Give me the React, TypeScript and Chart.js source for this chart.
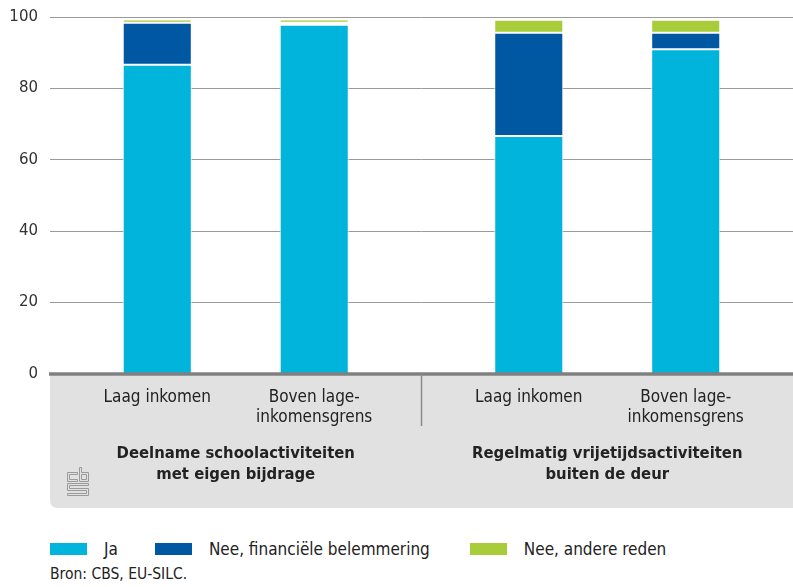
import React, { useEffect, useRef } from "react";
import { Chart, registerables } from "chart.js";

Chart.register(...registerables);

// ---- data ----
const groupTitles: string[][] = [
  ["Deelname schoolactiviteiten", "met eigen bijdrage"],
  ["Regelmatig vrijetijdsactiviteiten", "buiten de deur"],
];
const incomeGroups = ["Laag inkomen", "Boven lage-inkomensgrens"];
const incomeLabelLines: string[][] = [["Laag inkomen"], ["Boven lage-", "inkomensgrens"]];
const seriesNames = ["Ja", "Nee, financiële belemmering", "Nee, andere reden"];
const seriesColors = ["#00b4dc", "#0058a3", "#a9cd3a"];

// values per income group, per activity [school, vrije tijd]
const jaLaag = [86.6, 66.7];
const jaBoven = [97.8, 91.0];
const finLaag = [11.8, 28.9];
const finBoven = [0.6, 4.6];
const andereLaag = [0.9, 3.6];
const andereBoven = [0.9, 3.6];

const yTicks = [0, 20, 40, 60, 80, 100];
const source = "Bron: CBS, EU-SILC.";

const seriesValues = [
  [jaLaag, jaBoven],
  [finLaag, finBoven],
  [andereLaag, andereBoven],
];

const FONT = "'DejaVu Sans Condensed', 'Liberation Sans Narrow', 'DejaVu Sans', sans-serif";

export default function App() {
  const ref = useRef<HTMLCanvasElement | null>(null);

  useEffect(() => {
    document.body.style.margin = "0";
    const canvas = ref.current;
    if (!canvas) return;

    const datasets: any[] = [];
    seriesValues.forEach((perGroup, s) => {
      perGroup.forEach((vals, g) => {
        datasets.push({
          label: seriesNames[s],
          stack: incomeGroups[g],
          data: vals,
          backgroundColor: seriesColors[s],
          borderColor: "#ffffff",
          borderWidth: 1,
          borderSkipped: false,
          categoryPercentage: 0.845,
          barPercentage: 0.44,
        });
      });
    });

    const decor = {
      id: "decor",
      beforeDraw(chart: any) {
        const { ctx, chartArea } = chart;
        const left = chartArea.left;
        const right = chartArea.right;
        const top = chartArea.bottom + 1;
        const bottom = 508;
        const r = 8;
        ctx.save();
        ctx.fillStyle = "#e1e1e1";
        ctx.beginPath();
        ctx.moveTo(left, top);
        ctx.lineTo(right, top);
        ctx.lineTo(right, bottom);
        ctx.lineTo(left + r, bottom);
        ctx.quadraticCurveTo(left, bottom, left, bottom - r);
        ctx.closePath();
        ctx.fill();
        ctx.restore();
      },
      afterDatasetsDraw(chart: any) {
        const { ctx, chartArea, scales } = chart;
        const xs = scales.x;
        const y0 = scales.y.getPixelForValue(0);
        ctx.save();
        // zero line
        ctx.strokeStyle = "#808080";
        ctx.lineWidth = 3.5;
        ctx.beginPath();
        ctx.moveTo(chartArea.left - 1, y0);
        ctx.lineTo(chartArea.right, y0);
        ctx.stroke();
        // divider between groups
        const xDiv = (xs.getPixelForValue(0) + xs.getPixelForValue(1)) / 2;
        ctx.strokeStyle = "#8a8a8a";
        ctx.lineWidth = 1.5;
        ctx.beginPath();
        ctx.moveTo(xDiv, y0);
        ctx.lineTo(xDiv, 426);
        ctx.stroke();

        // income group labels under each bar
        ctx.fillStyle = "#222";
        ctx.textAlign = "center";
        ctx.textBaseline = "middle";
        ctx.font = `17px ${FONT}`;
        incomeGroups.forEach((_, g) => {
          const meta = chart.getDatasetMeta(g); // Ja dataset for this income group
          meta.data.forEach((bar: any) => {
            incomeLabelLines[g].forEach((line, li) => {
              ctx.fillText(line, bar.x, 398 + li * 20);
            });
          });
        });
        // group titles
        ctx.font = `bold 16.5px ${FONT}`;
        groupTitles.forEach((lines, i) => {
          const cx = xs.getPixelForValue(i);
          lines.forEach((line, li) => ctx.fillText(line, cx, 454 + li * 21));
        });

        // cbs logo (outline style)
        ctx.strokeStyle = "#9a9a9a";
        ctx.lineWidth = 1;
        const poly = (pts: number[][]) => {
          ctx.beginPath();
          pts.forEach((p, k) => (k ? ctx.lineTo(p[0] + 0.5, p[1] + 0.5) : ctx.moveTo(p[0] + 0.5, p[1] + 0.5)));
          ctx.closePath();
          ctx.stroke();
        };
        poly([[67, 472], [77, 472], [77, 474], [69, 474], [69, 479], [77, 479], [77, 481], [67, 481]]);
        poly([[79, 467], [81, 467], [81, 472], [88, 472], [88, 481], [79, 481]]);
        poly([[81, 474], [86, 474], [86, 479], [81, 479]]);
        poly([[67, 483], [88, 483], [88, 485], [69, 485], [69, 488], [88, 488], [88, 495], [67, 495], [67, 493], [86, 493], [86, 490], [67, 490]]);
        ctx.restore();
      },
    };

    const chart = new Chart(canvas, {
      type: "bar",
      data: { labels: groupTitles.map((l) => l.join(" ")), datasets },
      options: {
        animation: false,
        responsive: false,
        maintainAspectRatio: false,
        layout: { padding: { top: 17, bottom: 146, left: 0, right: 0 } },
        plugins: { legend: { display: false }, tooltip: { enabled: false } },
        scales: {
          x: {
            stacked: true,
            display: false,
            grid: { display: false },
          },
          y: {
            stacked: true,
            min: 0,
            max: 100,
            afterBuildTicks: (scale: any) => {
              scale.ticks = yTicks.map((v) => ({ value: v }));
            },
            afterFit: (scale: any) => {
              scale.width = 50;
              scale.paddingTop = 0;
              scale.paddingBottom = 0;
            },
            border: { display: false },
            grid: {
              color: "#9a9a9a",
              lineWidth: (c: any) => (c.tick && c.tick.value === 0 ? 0 : 1),
              drawTicks: false,
            },
            ticks: {
              color: "#333",
              padding: 12,
              font: { family: "'DejaVu Sans', sans-serif", size: 15 },
            },
          },
        },
      },
      plugins: [decor],
    });
    return () => chart.destroy();
  }, []);

  const legendItem = (i: number) => (
    <div key={i} style={{ display: "flex", alignItems: "center", marginRight: i === 0 ? 37 : 40 }}>
      <span style={{ display: "inline-block", width: 37, height: 12, background: seriesColors[i], marginRight: 17 }} />
      <span>{seriesNames[i]}</span>
    </div>
  );

  return (
    <div style={{ position: "relative", width: 793, height: 587, fontFamily: FONT, color: "#222", background: "#fff" }}>
      <canvas ref={ref} width={793} height={520} style={{ position: "absolute", left: 0, top: 0, width: 793, height: 520 }} />
      <div style={{ position: "absolute", left: 50, top: 539, display: "flex", fontSize: 17, lineHeight: "20px" }}>
        {seriesNames.map((_, i) => legendItem(i))}
      </div>
      <div style={{ position: "absolute", left: 50, top: 564, fontSize: 15.5, lineHeight: "20px" }}>{source}</div>
    </div>
  );
}
